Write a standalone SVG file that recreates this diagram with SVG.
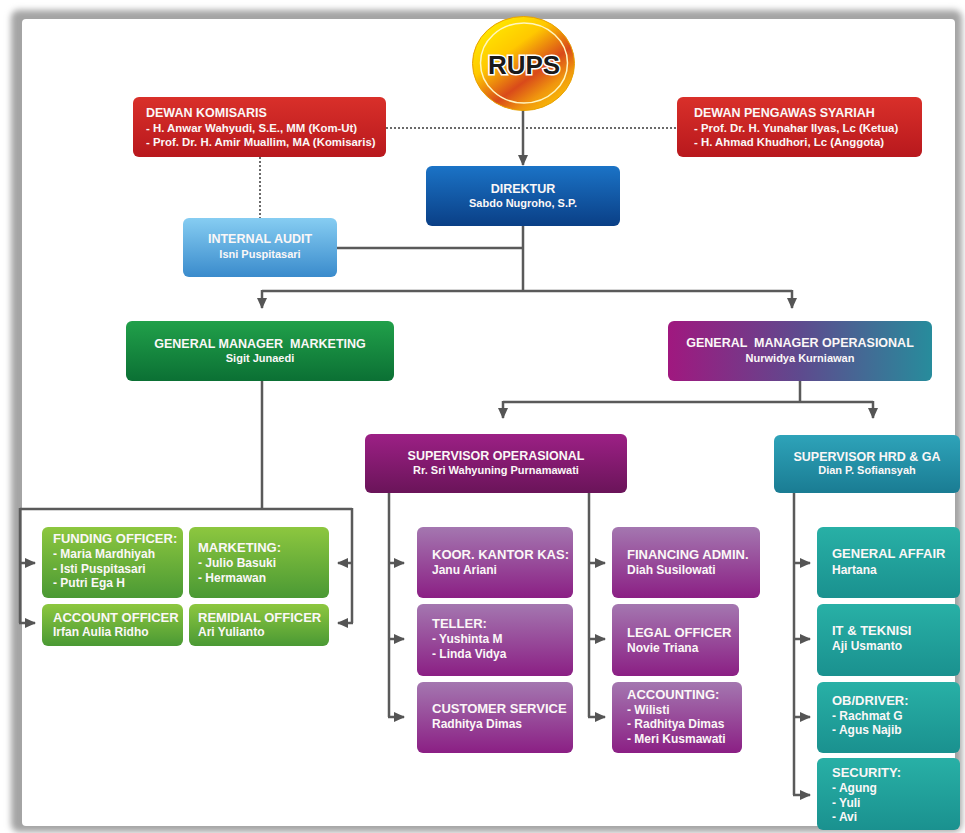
<svg xmlns="http://www.w3.org/2000/svg" width="965" height="833" viewBox="0 0 965 833">
<style>
text{font-family:"Liberation Sans","DejaVu Sans",Arial,sans-serif;font-weight:700;fill:#fbf7f7;white-space:pre}
.t{font-size:12.5px}
.n{font-size:11px}
.rn{font-size:11.4px}
.st{font-size:13px}
.sn{font-size:12px}
.c{text-anchor:middle}
.ln{fill:none;stroke:#5a5a5a;stroke-width:2.5}
.dot{fill:none;stroke:#6a6a6a;stroke-width:2;stroke-dasharray:2 2}
.ar{fill:none;stroke:#5a5a5a;stroke-width:2.5;marker-end:url(#ah)}
</style>
<defs>
<filter id="blur" x="-5%" y="-5%" width="110%" height="110%"><feGaussianBlur stdDeviation="3"/></filter>
<marker id="ah" markerUnits="userSpaceOnUse" markerWidth="11" markerHeight="10" refX="10" refY="5" orient="auto"><path d="M0,0 L11,5 L0,10 z" fill="#555"/></marker>
<linearGradient id="red" x1="0" y1="0" x2="0" y2="1"><stop offset="0" stop-color="#d9302a"/><stop offset="1" stop-color="#b8181d"/></linearGradient>
<linearGradient id="blue" x1="0" y1="0" x2="0" y2="1"><stop offset="0" stop-color="#1b73c6"/><stop offset="1" stop-color="#0a3f86"/></linearGradient>
<linearGradient id="lblue" x1="0" y1="0" x2="0" y2="1"><stop offset="0" stop-color="#86cdf2"/><stop offset="1" stop-color="#3a8bcc"/></linearGradient>
<linearGradient id="green" x1="0" y1="0" x2="0" y2="1"><stop offset="0" stop-color="#21a04a"/><stop offset="1" stop-color="#0b7034"/></linearGradient>
<linearGradient id="lgreen" x1="0" y1="0" x2="0" y2="1"><stop offset="0" stop-color="#8dc73f"/><stop offset="1" stop-color="#4a9934"/></linearGradient>
<linearGradient id="gmo" x1="0" y1="0" x2="1" y2="0"><stop offset="0" stop-color="#a0187f"/><stop offset="0.5" stop-color="#5e4a8e"/><stop offset="1" stop-color="#278c9c"/></linearGradient>
<linearGradient id="dpurple" x1="0" y1="0" x2="0" y2="1"><stop offset="0" stop-color="#9c2085"/><stop offset="1" stop-color="#6a1459"/></linearGradient>
<linearGradient id="lpurple" x1="0" y1="0" x2="0" y2="1"><stop offset="0" stop-color="#a477b0"/><stop offset="1" stop-color="#8b1f84"/></linearGradient>
<linearGradient id="tblue" x1="0" y1="0" x2="0" y2="1"><stop offset="0" stop-color="#2ea3b9"/><stop offset="1" stop-color="#1a7c93"/></linearGradient>
<linearGradient id="teal" x1="0" y1="0" x2="0" y2="1"><stop offset="0" stop-color="#28b0a6"/><stop offset="1" stop-color="#1a918f"/></linearGradient>
<linearGradient id="gold" x1="0.1" y1="0" x2="0.9" y2="1"><stop offset="0" stop-color="#fff200"/><stop offset="0.35" stop-color="#ffc800"/><stop offset="0.62" stop-color="#d94a1a"/><stop offset="0.78" stop-color="#f0960e"/><stop offset="1" stop-color="#ffd200"/></linearGradient>
</defs>

<!-- frame -->
<rect x="11" y="10" width="951" height="822" rx="8" fill="#a4a4a4" filter="url(#blur)"/>
<rect x="22" y="19" width="933" height="807" rx="4" fill="#ffffff"/>

<!-- connectors -->
<g id="connectors">
<path class="dot" d="M386,128 H677"/>
<path class="dot" d="M260,157 V218"/>
<path class="ar" d="M523,110 V165"/>
<path class="ln" d="M337,248 H523"/>
<path class="ln" d="M523,226 V291 M262,291 H792"/>
<path class="ar" d="M262,290 V308"/>
<path class="ar" d="M792,290 V308"/>
<path class="ln" d="M262,381 V509 M20,509 H352 M20,508 V623 M352,508 V623"/>
<path class="ar" d="M19,563 H35"/>
<path class="ar" d="M19,623 H35"/>
<path class="ar" d="M353,563 H338"/>
<path class="ar" d="M353,623 H338"/>
<path class="ln" d="M800,381 V402 M503,402 H873"/>
<path class="ar" d="M503,401 V418"/>
<path class="ar" d="M873,401 V418"/>
<path class="ln" d="M389,493 V717 M589,493 V717"/>
<path class="ar" d="M388,563 H404"/>
<path class="ar" d="M388,639 H404"/>
<path class="ar" d="M388,717 H404"/>
<path class="ar" d="M588,563 H605"/>
<path class="ar" d="M588,639 H605"/>
<path class="ar" d="M588,717 H605"/>
<path class="ln" d="M794,493 V795"/>
<path class="ar" d="M793,563 H810"/>
<path class="ar" d="M793,639 H810"/>
<path class="ar" d="M793,717 H810"/>
<path class="ar" d="M793,795 H810"/>
</g>

<g id="rups">
<ellipse cx="523.5" cy="63.5" rx="51" ry="47" fill="url(#gold)" stroke="#e8a000" stroke-width="1"/>
<ellipse cx="524" cy="63" rx="43.5" ry="40" fill="none" stroke="#fff6c0" stroke-width="1.5"/>
<text x="524" y="74" class="c" style="font-size:26px;fill:#1a1a1a;stroke:#ffffff;stroke-width:3;paint-order:stroke">RUPS</text>
</g>

<g id="dewan-komisaris">
<rect x="133" y="97" width="253" height="60" rx="6" fill="url(#red)"/>
<text x="146" y="117" class="t">DEWAN KOMISARIS</text>
<text x="146" y="132" class="rn">- H. Anwar Wahyudi, S.E., MM (Kom-Ut)</text>
<text x="146" y="146" class="rn">- Prof. Dr. H. Amir Muallim, MA (Komisaris)</text>
</g>

<g id="dewan-pengawas">
<rect x="677" y="97" width="245" height="60" rx="6" fill="url(#red)"/>
<text x="694" y="117" class="t">DEWAN PENGAWAS SYARIAH</text>
<text x="694" y="132" class="rn">- Prof. Dr. H. Yunahar Ilyas, Lc (Ketua)</text>
<text x="694" y="146" class="rn">- H. Ahmad Khudhori, Lc (Anggota)</text>
</g>

<g id="direktur">
<rect x="426" y="166" width="194" height="60" rx="6" fill="url(#blue)"/>
<text x="523" y="193" class="t c">DIREKTUR</text>
<text x="523" y="207" class="n c">Sabdo Nugroho, S.P.</text>
</g>

<g id="internal-audit">
<rect x="183" y="218" width="154" height="59" rx="6" fill="url(#lblue)"/>
<text x="260" y="243" class="t c">INTERNAL AUDIT</text>
<text x="260" y="258" class="n c">Isni Puspitasari</text>
</g>

<g id="gm-marketing">
<rect x="126" y="321" width="268" height="60" rx="6" fill="url(#green)"/>
<text x="260" y="348" class="t c">GENERAL MANAGER  MARKETING</text>
<text x="260" y="362" class="n c">Sigit Junaedi</text>
</g>

<g id="gm-operasional">
<rect x="668" y="321" width="264" height="60" rx="6" fill="url(#gmo)"/>
<text x="800" y="347" class="t c">GENERAL  MANAGER OPERASIONAL</text>
<text x="800" y="362" class="n c">Nurwidya Kurniawan</text>
</g>

<g id="supervisor-operasional">
<rect x="365" y="434" width="262" height="59" rx="6" fill="url(#dpurple)"/>
<text x="496" y="460" class="t c">SUPERVISOR OPERASIONAL</text>
<text x="496" y="474" class="n c">Rr. Sri Wahyuning Purnamawati</text>
</g>

<g id="supervisor-hrd">
<rect x="774" y="435" width="186" height="58" rx="6" fill="url(#tblue)"/>
<text x="867" y="461" class="t c">SUPERVISOR HRD &amp; GA</text>
<text x="867" y="474" class="n c">Dian P. Sofiansyah</text>
</g>

<g id="funding-officer">
<rect x="42" y="527" width="141" height="71" rx="6" fill="url(#lgreen)"/>
<text x="53" y="543" class="st">FUNDING OFFICER:</text>
<text x="53" y="558" class="sn">- Maria Mardhiyah</text>
<text x="53" y="573" class="sn">- Isti Puspitasari</text>
<text x="53" y="587" class="sn">- Putri Ega H</text>
</g>

<g id="marketing">
<rect x="189" y="527" width="140" height="71" rx="6" fill="url(#lgreen)"/>
<text x="198" y="552" class="st">MARKETING:</text>
<text x="198" y="567" class="sn">- Julio Basuki</text>
<text x="198" y="582" class="sn">- Hermawan</text>
</g>

<g id="account-officer">
<rect x="42" y="604" width="141" height="42" rx="6" fill="url(#lgreen)"/>
<text x="53" y="622" class="st">ACCOUNT OFFICER</text>
<text x="53" y="636" class="sn">Irfan Aulia Ridho</text>
</g>

<g id="remidial-officer">
<rect x="189" y="604" width="140" height="42" rx="6" fill="url(#lgreen)"/>
<text x="198" y="622" class="st">REMIDIAL OFFICER</text>
<text x="198" y="636" class="sn">Ari Yulianto</text>
</g>

<g id="koor-kantor-kas">
<rect x="417" y="527" width="156" height="71" rx="6" fill="url(#lpurple)"/>
<text x="432" y="559" class="st">KOOR. KANTOR KAS:</text>
<text x="432" y="574" class="sn">Janu Ariani</text>
</g>

<g id="teller">
<rect x="417" y="604" width="156" height="72" rx="6" fill="url(#lpurple)"/>
<text x="432" y="628" class="st">TELLER:</text>
<text x="432" y="643" class="sn">- Yushinta M</text>
<text x="432" y="658" class="sn">- Linda Vidya</text>
</g>

<g id="customer-service">
<rect x="417" y="682" width="156" height="71" rx="6" fill="url(#lpurple)"/>
<text x="432" y="713" class="st">CUSTOMER SERVICE</text>
<text x="432" y="728" class="sn">Radhitya Dimas</text>
</g>

<g id="financing-admin">
<rect x="612" y="527" width="148" height="71" rx="6" fill="url(#lpurple)"/>
<text x="627" y="559" class="st">FINANCING ADMIN.</text>
<text x="627" y="574" class="sn">Diah Susilowati</text>
</g>

<g id="legal-officer">
<rect x="612" y="604" width="127" height="72" rx="6" fill="url(#lpurple)"/>
<text x="627" y="637" class="st">LEGAL OFFICER</text>
<text x="627" y="652" class="sn">Novie Triana</text>
</g>

<g id="accounting">
<rect x="612" y="682" width="130" height="71" rx="6" fill="url(#lpurple)"/>
<text x="627" y="699" class="st">ACCOUNTING:</text>
<text x="627" y="714" class="sn">- Wilisti</text>
<text x="627" y="728" class="sn">- Radhitya Dimas</text>
<text x="627" y="743" class="sn">- Meri Kusmawati</text>
</g>

<g id="general-affair">
<rect x="817" y="527" width="143" height="71" rx="6" fill="url(#teal)"/>
<text x="832" y="558" class="st">GENERAL AFFAIR</text>
<text x="832" y="574" class="sn">Hartana</text>
</g>

<g id="it-teknisi">
<rect x="817" y="604" width="143" height="72" rx="6" fill="url(#teal)"/>
<text x="832" y="635" class="st">IT &amp; TEKNISI</text>
<text x="832" y="650" class="sn">Aji Usmanto</text>
</g>

<g id="ob-driver">
<rect x="817" y="682" width="143" height="71" rx="6" fill="url(#teal)"/>
<text x="832" y="705" class="st">OB/DRIVER:</text>
<text x="832" y="720" class="sn">- Rachmat G</text>
<text x="832" y="734" class="sn">- Agus Najib</text>
</g>

<g id="security">
<rect x="817" y="758" width="143" height="72" rx="6" fill="url(#teal)"/>
<text x="832" y="777" class="st">SECURITY:</text>
<text x="832" y="792" class="sn">- Agung</text>
<text x="832" y="807" class="sn">- Yuli</text>
<text x="832" y="821" class="sn">- Avi</text>
</g>
</svg>
